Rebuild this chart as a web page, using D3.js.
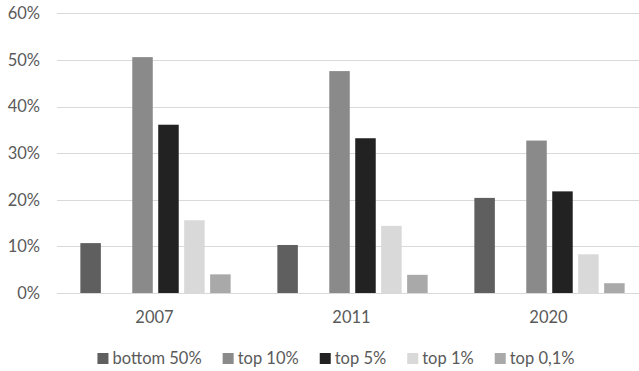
<!DOCTYPE html>
<html>
<head>
<meta charset="utf-8">
<script src="https://cdn.jsdelivr.net/npm/d3@7"></script>
<style>
  body { margin: 0; background: #fff; }
  text { font-family: Lato, "Noto Sans", sans-serif; fill: #5a5a5a; }
</style>
</head>
<body>
<div id="chart"></div>
<script>
// Income shares by group, per year
const years = ["2007", "2011", "2020"];
const slots = ["bottom 50%", "gap", "top 10%", "top 5%", "top 1%", "top 0,1%"];
const groups = ["bottom 50%", "top 10%", "top 5%", "top 1%", "top 0,1%"];
const bottom50 = [10.7, 10.3, 20.4];
const top10 = [50.6, 47.6, 32.7];
const top5 = [36.1, 33.2, 21.8];
const top1 = [15.6, 14.4, 8.3];
const top01 = [4.0, 3.9, 2.1];
const yTicks = [0, 10, 20, 30, 40, 50, 60];
const colors = ["#5f5f5f", "#8a8a8a", "#222222", "#d9d9d9", "#a9a9a9"];

const seriesValues = [bottom50, top10, top5, top1, top01];
const rows = [];
groups.forEach((g, i) => years.forEach((yr, j) => rows.push({group: g, year: yr, value: seriesValues[i][j], color: colors[i]})));

const W = 639, H = 371;
const margin = {top: 13, right: -9, bottom: 78, left: 57};
const svg = d3.select("#chart").append("svg").attr("width", W).attr("height", H);

const x0 = d3.scaleBand().domain(years).range([margin.left, W - margin.right]);
const x1 = d3.scaleBand().domain(slots).range([0, x0.bandwidth()]).paddingInner(0.21).paddingOuter(0.9);
const y = d3.scaleLinear().domain([0, 60]).range([H - margin.bottom, margin.top + 0.3]);

// gridlines
svg.append("g").selectAll("line").data(yTicks).join("line")
  .attr("x1", margin.left).attr("x2", W)
  .attr("y1", d => Math.round(y(d)) + 0.5).attr("y2", d => Math.round(y(d)) + 0.5)
  .attr("stroke", "#d9d9d9").attr("stroke-width", 1);

svg.append("g").selectAll("text").data(yTicks).join("text")
  .attr("x", 40).attr("y", d => y(d)).attr("dy", "0.36em")
  .attr("text-anchor", "end").style("font-size", "16.5px")
  .text(d => d + "%");

// bars
svg.append("g").selectAll("rect").data(rows).join("rect")
  .attr("x", d => x0(d.year) + x1(d.group)).attr("width", x1.bandwidth())
  .attr("y", d => y(d.value)).attr("height", d => y(0) - y(d.value))
  .attr("fill", d => d.color);

// x labels
svg.append("g").selectAll("text").data(years).join("text")
  .attr("x", d => x0(d) + x0.bandwidth() / 2 - 1).attr("y", 323)
  .attr("text-anchor", "middle").style("font-size", "16.5px")
  .text(d => d);

// legend
const leg = svg.append("g");
const items = leg.selectAll("g").data(groups).join("g");
items.append("rect").attr("width", 11).attr("height", 11).attr("y", -11)
  .attr("fill", (d, i) => colors[i]);
items.append("text").attr("x", 15).attr("y", 0).style("font-size", "16.5px").text(d => d);
let pos = 0;
items.each(function() {
  d3.select(this).attr("transform", `translate(${pos},364)`);
  pos += 15 + d3.select(this).select("text").node().getComputedTextLength() + 21;
});
const legW = pos - 21;
leg.attr("transform", `translate(${336 - legW / 2},0)`);
</script>
</body>
</html>
